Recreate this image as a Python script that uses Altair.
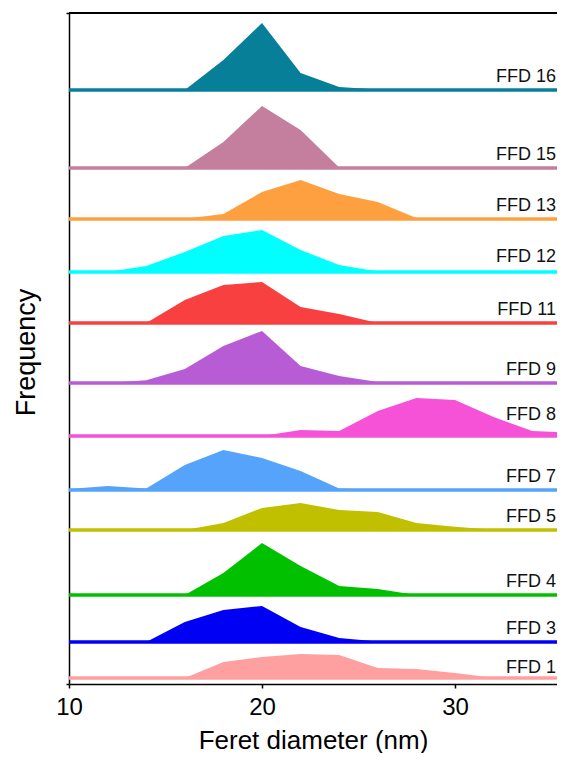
import altair as alt
import pandas as pd

# Feret diameter bins (nm)
diameters = [10, 12, 14, 16, 18, 20, 22, 24, 26, 28, 30, 32, 34, 36]

# series names (top to bottom)
series_names = ["FFD 16", "FFD 15", "FFD 13", "FFD 12", "FFD 11", "FFD 9",
                "FFD 8", "FFD 7", "FFD 5", "FFD 4", "FFD 3", "FFD 1"]

# frequency values (arbitrary units) per series
ffd16 = [0, 0, 0, 0, 30, 67, 17, 3, 0.5, 0, 0, 0, 0, 0]
ffd15 = [0, 0, 0, 0, 26, 62, 38, 0.5, 0, 0, 0, 0, 0, 0]
ffd13 = [0, 0, 0, 0.3, 5, 27, 39, 25, 17, 1, 0, 0, 0, 0]
ffd12 = [0, 0, 6, 20, 36, 42, 22, 7, 0.5, 0, 0, 0, 0, 0]
ffd11 = [0, 0, 0, 23, 38, 41, 16, 9, 0, 0, 0, 0, 0, 0]
ffd9 = [0, 0, 2.7, 14, 37, 52, 17, 7, 1, 0, 0, 0, 0, 0]
ffd8 = [1, 0, 0, 0, 0, 0, 6, 5, 25, 38, 36, 19, 5, 3.5]
ffd7 = [1, 4, 1.5, 25, 40, 32, 19, 1.5, 0.3, 0, 0, 0, 0, 0]
ffd5 = [0, 0, 0, 0, 7, 22, 27, 20, 18, 7, 3.3, 0.3, 0, 0]
ffd4 = [0, 0, 0, 0, 22, 52, 29, 9, 6, 0, 0, 0, 0, 0]
ffd3 = [0, 0, 0, 20, 32, 36, 15, 4, 0.5, 0, 0, 0, 0, 0]
ffd1 = [0, 0, 0, 0, 16, 21, 24, 23, 10, 9, 5, 0.3, 0, 0]

series_values = [ffd16, ffd15, ffd13, ffd12, ffd11, ffd9,
                 ffd8, ffd7, ffd5, ffd4, ffd3, ffd1]

# vertical offset of each stacked curve (same units as the frequency)
offsets = [594, 516, 465, 412, 361, 301, 248, 194, 154, 89, 42, 6]

colors = ["#087F98", "#C47E9E", "#FFA040", "#00FFFF", "#F84040", "#B85CD6",
          "#F552D8", "#55A3FA", "#C0C000", "#00C000", "#0000F5", "#FFA0A0"]
opacities = [1, 1, 1, 0.6, 1, 1, 1, 1, 1, 1, 1, 1]

# label lift above baseline
label_lift = {"FFD 8": 16, "FFD 12": 10, "FFD 1": 5}

rows = []
for name, vals, off in zip(series_names, series_values, offsets):
    for d, v in zip(diameters, vals):
        rows.append({"series": name, "x": d, "top": off + v, "base": off})
df = pd.DataFrame(rows)

FONT = "Liberation Sans"
PLOT_W, PLOT_H = 488, 671
XMAX = 10 + PLOT_W / 19.3

base_df = pd.DataFrame({"series": series_names, "base": offsets})
lab_df = pd.DataFrame({
    "series": series_names,
    "lx": [35.23] * len(series_names),
    "ly": [o + label_lift.get(n, 8) for n, o in zip(series_names, offsets)],
})

xscale = alt.Scale(domain=[10, XMAX], nice=False, zero=False)
yscale = alt.Scale(domain=[0, PLOT_H], nice=False, zero=True)
cscale = alt.Scale(domain=series_names, range=colors)
oscale = alt.Scale(domain=series_names, range=opacities)

xaxis = alt.Axis(title="Feret diameter (nm)", values=[10, 20, 30], grid=False,
                 domainColor="black", domainWidth=1.5, tickColor="black",
                 tickWidth=1.5, tickSize=4, labelFontSize=24, labelFont=FONT,
                 labelColor="black", labelPadding=7, labelFlush=False,
                 titleFontSize=26, titleFont=FONT, titleFontWeight="normal",
                 titleColor="black", titleBaseline="alphabetic", titleY=64)
yaxis = alt.Axis(title="Frequency", labels=False, values=[0, PLOT_H], grid=False,
                 domainColor="black", domainWidth=1.5, tickColor="black",
                 tickWidth=1.5, tickSize=3, titleFontSize=27, titleFont=FONT,
                 titleFontWeight="normal", titleColor="black",
                 titleBaseline="alphabetic", titleX=-35, titleY=339,
                 titleAngle=-90, titleAlign="center")

areas = alt.Chart(df).mark_area(clip=True, interpolate="linear").encode(
    x=alt.X("x:Q", scale=xscale, axis=xaxis),
    y=alt.Y("top:Q", scale=yscale, axis=yaxis),
    y2="base:Q",
    color=alt.Color("series:N", scale=cscale, legend=None),
    opacity=alt.Opacity("series:N", scale=oscale, legend=None),
    detail="series:N",
)

baselines = alt.Chart(base_df).mark_rule(strokeWidth=3.5, clip=True).encode(
    y=alt.Y("base:Q", scale=yscale),
    x=alt.value(0),
    x2=alt.value(PLOT_W),
    color=alt.Color("series:N", scale=cscale, legend=None),
)

labels = alt.Chart(lab_df).mark_text(
    align="right", baseline="alphabetic", fontSize=18, font=FONT,
    color="#111111"
).encode(
    x=alt.X("lx:Q", scale=xscale),
    y=alt.Y("ly:Q", scale=yscale),
    text="series:N",
)

topline = alt.Chart(base_df).mark_rule(color="black", strokeWidth=1.5).encode(
    y=alt.value(0), x=alt.value(0), x2=alt.value(PLOT_W)
)

chart = alt.layer(areas, baselines, labels, topline).properties(
    width=PLOT_W, height=PLOT_H,
    autosize=alt.AutoSizeParams(type="none"),
    padding={"left": 61, "top": 5, "right": 0, "bottom": 69},
).configure_view(stroke=None).configure(background="white")

chart.save("out.html", embed_options={"renderer": "svg", "actions": False})
